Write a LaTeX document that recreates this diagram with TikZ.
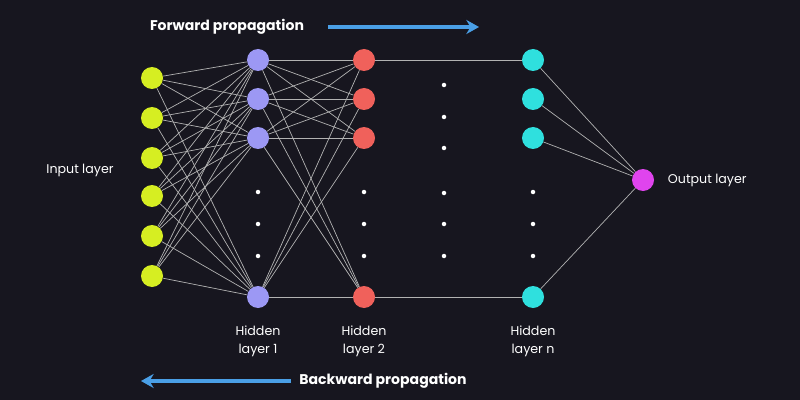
\documentclass[tikz,border=0pt]{standalone}
\usepackage{fontspec}
\setmainfont{Poppins}
\usetikzlibrary{arrows.meta}
\definecolor{bg}{HTML}{17161F}
\definecolor{inc}{HTML}{D6EE22}
\definecolor{hac}{HTML}{9C98F4}
\definecolor{hbc}{HTML}{F0615B}
\definecolor{hnc}{HTML}{2FE0DE}
\definecolor{outc}{HTML}{E044EE}
\definecolor{arrc}{HTML}{4A9FE6}
\pgfdeclarelayer{back}
\pgfdeclarelayer{wires}
\pgfsetlayers{back,wires,main}
\tikzstyle{neuron} = [circle, minimum size=22*0.025cm, inner sep=0pt]
\tikzstyle{dot} = [circle, fill=white, minimum size=4.5*0.025cm, inner sep=0pt]
\tikzstyle{wire} = [draw=gray!60, line width=0.5pt]
\tikzstyle{txt} = [text=white, font=\fontsize{9}{13}\selectfont, align=center]
\tikzstyle{proparrow} = [draw=arrc, line width=3pt, -{Stealth[length=9pt,width=10pt]}]

\begin{document}
\begin{tikzpicture}[x=0.025cm, y=-0.025cm]
    \begin{pgfonlayer}{back}
    \fill [bg] (0,0) rectangle (800,400);
    \end{pgfonlayer}

    % nodes
    \foreach \i/\y in {1/78,2/118,3/158,4/196,5/236,6/276}
        \node (in\i) [neuron, fill=inc] at (152,\y) {};
    \foreach \l/\x/\c in {a/258/hac, b/364/hbc, n/533/hnc} {
        \foreach \i/\y in {1/60,2/99,3/138,4/297}
            \node (h\l\i) [neuron, fill=\c] at (\x,\y) {};
        \foreach \y in {192,224,256}
            \node [dot] at (\x,\y) {};
    }
    \foreach \y in {85,117,148,193,224,256}
        \node [dot] at (444,\y) {};
    \node (out) [neuron, fill=outc] at (643,180) {};

    % edges
    \begin{pgfonlayer}{wires}
    \foreach \i in {1,...,6}
        \foreach \j in {1,...,4}
            \draw [wire] (in\i) -- (ha\j);
    \foreach \i in {1,...,4}
        \foreach \j in {1,...,4}
            \draw [wire] (ha\i) -- (hb\j);
    \draw [wire] (hb1) -- (hn1);
    \draw [wire] (hb4) -- (hn4);
    \foreach \i in {1,...,4}
        \draw [wire] (hn\i) -- (out);
    \end{pgfonlayer}

    % labels
    \node (fwd) [txt, font=\fontsize{10}{12}\selectfont\bfseries] at (227,27) {Forward propagation};
    \coordinate (fwdstart) at (328,27);
    \coordinate (fwdend) at (479,27);
    \draw [proparrow] (fwdstart) -- (fwdend);
    \node (bwd) [txt, font=\fontsize{10}{12}\selectfont\bfseries] at (383,381) {Backward propagation};
    \coordinate (bwdstart) at (291,381);
    \coordinate (bwdend) at (141,381);
    \draw [proparrow] (bwdstart) -- (bwdend);
    \node (inlab) [txt] at (80,170) {Input layer};
    \node (outlab) [txt, anchor=west] at (663,180) {Output layer};
    \node [txt] at (258,341) {Hidden\\layer 1};
    \node [txt] at (364,341) {Hidden\\layer 2};
    \node [txt] at (533,341) {Hidden\\layer n};
\end{tikzpicture}
\end{document}
